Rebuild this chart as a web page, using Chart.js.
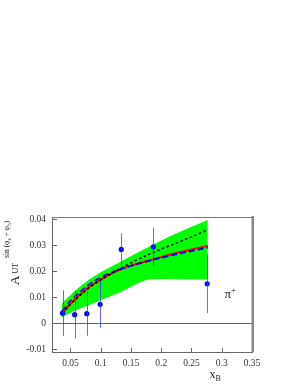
<!DOCTYPE html>
<html>
<head>
<meta charset="utf-8">
<script src="https://cdn.jsdelivr.net/npm/chart.js@4.4.0/dist/chart.umd.min.js"></script>
<style>
html, body { margin: 0; padding: 0; background: #fff; }
</style>
</head>
<body>
<canvas id="chart" width="300" height="388"></canvas>
<script>
// measured points: x_B, asymmetry, error
const pointX   = [0.037, 0.057, 0.077, 0.099, 0.134, 0.187, 0.276];
const pointY   = [0.0038, 0.0032, 0.0036, 0.0072, 0.0283, 0.0293, 0.0151];
const pointErr = [0.0088, 0.0091, 0.0085, 0.0090, 0.0062, 0.0074, 0.0113];

// model curves
const curveX = [0.036, 0.05, 0.06, 0.08, 0.1, 0.135, 0.187, 0.23, 0.277];
const redY   = [0.0038, 0.0074, 0.0097, 0.0137, 0.0167, 0.0208, 0.0245, 0.0272, 0.0296];
const blueY  = [0.0045, 0.0086, 0.0108, 0.0147, 0.0176, 0.0209, 0.0243, 0.0267, 0.0290];
const blackY = [0.0037, 0.0072, 0.0094, 0.0134, 0.0166, 0.0213, 0.0272, 0.0312, 0.0358];

// uncertainty band
const bandX     = [0.036, 0.058, 0.08, 0.1, 0.129, 0.187, 0.23, 0.277];
const bandUpper = [0.0076, 0.0125, 0.0165, 0.0195, 0.0231, 0.0302, 0.0350, 0.0396];
const bandLower = [0.0022, 0.0048, 0.0068, 0.0088, 0.0115, 0.0169, 0.0168, 0.0167];

// axes
const xTicks = [0.05, 0.1, 0.15, 0.2, 0.25, 0.3, 0.35];
const xTickLabels = ['0.05', '0.1', '0.15', '0.2', '0.25', '0.3', '0.35'];
const yTicks = [-0.01, 0, 0.01, 0.02, 0.03, 0.04];
const yTickLabels = ['-0.01', '0', '0.01', '0.02', '0.03', '0.04'];

const SERIF = '"Liberation Serif", "DejaVu Serif", serif';

function pts(xs, ys) {
    return xs.map((x, i) => ({ x: x, y: ys[i] }));
}

// draws a run of [text, size, dy] pieces along the current x direction
function drawRuns(ctx, runs, x, y) {
    runs.forEach(r => {
        ctx.font = r[1] + 'px ' + SERIF;
        ctx.fillText(r[0], x, y + r[2]);
        x += ctx.measureText(r[0]).width;
    });
}

const decorations = {
    id: 'decorations',
    beforeDatasetsDraw(chart) {
        const { ctx, chartArea: a, scales: { y } } = chart;
        const y0 = Math.round(y.getPixelForValue(0)) + 0.5;
        ctx.save();
        ctx.strokeStyle = '#666';
        ctx.lineWidth = 1;
        ctx.beginPath();
        ctx.moveTo(a.left, y0);
        ctx.lineTo(a.right, y0);
        ctx.stroke();
        ctx.restore();
    },
    afterDatasetsDraw(chart) {
        const { ctx, scales: { x, y } } = chart;
        ctx.save();
        ctx.strokeStyle = 'rgba(50, 50, 255, 0.75)';
        ctx.lineWidth = 1;
        pointX.forEach((px, i) => {
            const xp = Math.round(x.getPixelForValue(px)) + 0.5;
            ctx.beginPath();
            ctx.moveTo(xp, y.getPixelForValue(pointY[i] + pointErr[i]));
            ctx.lineTo(xp, y.getPixelForValue(pointY[i] - pointErr[i]));
            ctx.stroke();
        });
        ctx.restore();
    },
    afterDraw(chart) {
        const { ctx, chartArea: a, scales: { x, y } } = chart;
        ctx.save();

        // frame top + shadowed right side
        ctx.strokeStyle = '#777';
        ctx.lineWidth = 1;
        ctx.beginPath();
        ctx.moveTo(a.left, a.top + 0.5);
        ctx.lineTo(a.right, a.top + 0.5);
        ctx.stroke();
        ctx.fillStyle = '#888';
        ctx.fillRect(a.right - 0.5, a.top - 1, 2.5, a.bottom - a.top + 1);

        // inward tick marks
        ctx.strokeStyle = '#666';
        ctx.beginPath();
        yTicks.forEach(v => {
            const yp = Math.round(y.getPixelForValue(v)) + 0.5;
            ctx.moveTo(a.left, yp);
            ctx.lineTo(a.left + 5, yp);
        });
        xTicks.forEach(v => {
            const xp = Math.round(x.getPixelForValue(v)) + 0.5;
            if (xp > a.right - 2) return;
            ctx.moveTo(xp, a.bottom);
            ctx.lineTo(xp, a.bottom - 4);
        });
        ctx.stroke();

        ctx.fillStyle = '#222';
        ctx.textBaseline = 'alphabetic';
        ctx.textAlign = 'left';

        // x axis title
        drawRuns(ctx, [['x', 12, 0], ['B', 8, 2.5]], 209.5, 378);

        // pi+ label
        drawRuns(ctx, [['\u03c0', 13, 0], ['+', 9, -5]], 224.5, 298);

        // y axis title, rotated
        ctx.translate(19, 285);
        ctx.rotate(-Math.PI / 2);
        drawRuns(ctx, [['A', 13, 0]], 0, 0);
        drawRuns(ctx, [['UT', 8, -1]], 11.5, 0);
        drawRuns(ctx, [
            ['sin (', 7.5, -10],
            ['\u03c6', 7.5, -10],
            ['s', 5.5, -8.5],
            [' + ', 7.5, -10],
            ['\u03c6', 7.5, -10],
            ['h', 5.5, -8.5],
            [')', 7.5, -10]
        ], 27, 0);

        ctx.restore();
    }
};

new Chart(document.getElementById('chart'), {
    type: 'line',
    data: {
        datasets: [
            {
                label: 'data',
                data: pts(pointX, pointY),
                showLine: false,
                pointRadius: 2.6,
                pointBackgroundColor: '#0000ff',
                pointBorderColor: '#0000ff',
                pointBorderWidth: 0,
                order: 0
            },
            {
                label: 'dotted',
                data: pts(curveX, blackY),
                borderColor: '#000',
                borderWidth: 1.6,
                borderDash: [2.5, 2.5],
                pointRadius: 0,
                cubicInterpolationMode: 'monotone',
                order: 1
            },
            {
                label: 'dashed',
                data: pts(curveX, blueY),
                borderColor: '#0000ff',
                borderWidth: 1.8,
                borderDash: [6, 3],
                pointRadius: 0,
                cubicInterpolationMode: 'monotone',
                order: 2
            },
            {
                label: 'solid',
                data: pts(curveX, redY),
                borderColor: '#ff0000',
                borderWidth: 2,
                pointRadius: 0,
                cubicInterpolationMode: 'monotone',
                order: 3
            },
            {
                label: 'band upper',
                data: pts(bandX, bandUpper),
                borderWidth: 0,
                borderColor: 'rgba(0,0,0,0)',
                backgroundColor: '#00ff00',
                pointRadius: 0,
                cubicInterpolationMode: 'monotone',
                fill: '+1',
                order: 4
            },
            {
                label: 'band lower',
                data: pts(bandX, bandLower),
                borderWidth: 0,
                borderColor: 'rgba(0,0,0,0)',
                pointRadius: 0,
                cubicInterpolationMode: 'monotone',
                fill: false,
                order: 5
            }
        ]
    },
    options: {
        responsive: false,
        animation: false,
        layout: { padding: { top: 217, right: 48, left: 0, bottom: 0 } },
        plugins: {
            legend: { display: false },
            tooltip: { enabled: false }
        },
        scales: {
            x: {
                type: 'linear',
                min: 0.0195,
                max: 0.35,
                grid: { display: false, drawTicks: false },
                border: { display: true, color: '#666', width: 1 },
                afterBuildTicks: s => { s.ticks = xTicks.map(v => ({ value: v })); },
                afterFit: s => { s.height = 36; },
                ticks: {
                    padding: 6,
                    color: '#333',
                    font: { family: SERIF, size: 9.5 },
                    maxRotation: 0,
                    autoSkip: false,
                    callback: (v, i) => xTickLabels[i]
                }
            },
            y: {
                type: 'linear',
                min: -0.01115,
                max: 0.04077,
                grid: { display: false, drawTicks: false },
                border: { display: true, color: '#666', width: 1 },
                afterBuildTicks: s => { s.ticks = yTicks.map(v => ({ value: v })); },
                afterFit: s => { s.width = 52; },
                ticks: {
                    padding: 6,
                    color: '#333',
                    font: { family: SERIF, size: 9.5 },
                    autoSkip: false,
                    callback: (v, i) => yTickLabels[i]
                }
            }
        }
    },
    plugins: [decorations]
});
</script>
</body>
</html>
